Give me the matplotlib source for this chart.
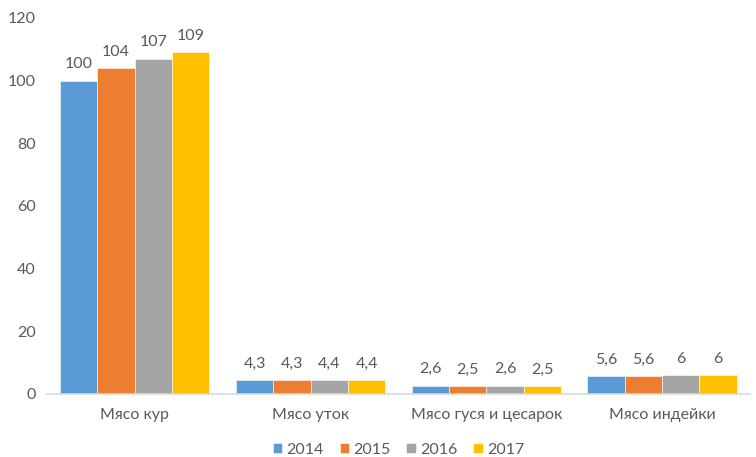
import numpy as np
import matplotlib.pyplot as plt

categories = ['Мясо кур', 'Мясо уток', 'Мясо гуся и цесарок', 'Мясо индейки']
years = ['2014', '2015', '2016', '2017']
v2014 = [100, 4.3, 2.6, 5.6]
v2015 = [104, 4.3, 2.5, 5.6]
v2016 = [107, 4.4, 2.6, 6]
v2017 = [109, 4.4, 2.5, 6]
series = [v2014, v2015, v2016, v2017]
colors = ['#5B9BD5', '#ED7D31', '#A5A5A5', '#FFC000']

txt = '#595959'
plt.rcParams['font.family'] = ['Lato', 'DejaVu Sans']

fig = plt.figure(figsize=(7.56, 4.57), dpi=100)
ax = fig.add_axes([0.062, 0.138, 0.93, 0.823])

x = np.arange(len(categories))
w = 0.2125
for i, (vals, c) in enumerate(zip(series, colors)):
    pos = x + (i - 1.5) * w
    ax.bar(pos, vals, w, color=c, label=years[i], edgecolor='white', linewidth=0.4)
    for xp, v in zip(pos, vals):
        lab = ('%g' % v).replace('.', ',')
        ax.text(xp, v + 3, lab, ha='center', va='bottom', fontsize=11.5, color=txt)

ax.set_xlim(-0.5, 3.5)
ax.set_ylim(0, 120)
ax.set_yticks(range(0, 121, 20))
ax.set_xticks(x)
ax.set_xticklabels(categories)
for s in ['top', 'right', 'left']:
    ax.spines[s].set_visible(False)
ax.spines['bottom'].set_color('#D9D9D9')
ax.spines['bottom'].set_linewidth(1.2)
ax.tick_params(axis='both', length=0, labelsize=11.5, colors=txt)
ax.tick_params(axis='y', pad=8)
ax.tick_params(axis='x', pad=10)

ax.legend(loc='center', bbox_to_anchor=(0.5, -0.148), ncol=4, frameon=False,
          fontsize=11.5, labelcolor=txt, handlelength=0.6, handleheight=0.6,
          handletextpad=0.25, columnspacing=1.0)

fig.savefig('out.png', dpi=100)
